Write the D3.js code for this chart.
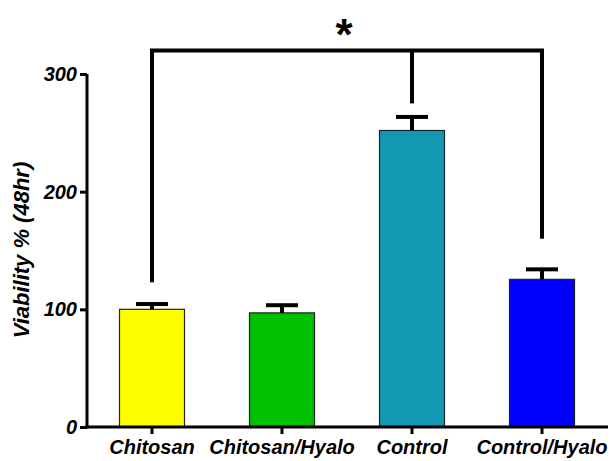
<!DOCTYPE html>
<html>
<head>
<meta charset="utf-8">
<script src="https://cdn.jsdelivr.net/npm/d3@7"></script>
<style>
  body { margin: 0; background: #fff; }
  text { font-family: "Liberation Sans", Arial, sans-serif; font-weight: bold; }
</style>
</head>
<body>
<div id="caja"></div>
<script>
// datos del grafico
var grupos  = ["Chitosan", "Chitosan/Hyalo", "Control", "Control/Hyalo"];
var medias  = [100, 97, 252, 125.5];
var errores = [4.5, 6.5, 11.5, 8.5];
var colores = ["#ffff00", "#00c000", "#1298b3", "#0000ff"];
var yTicks  = [0, 100, 200, 300];

// corchete de significancia: altura de la barra superior y final de cada pata
var corcheteTop  = 320;
var corchetePata = [ {g: "Chitosan", y: 123}, {g: "Control", y: 275}, {g: "Control/Hyalo", y: 160} ];

var w = 611, h = 461;

var svg = d3.select('#caja')
  .append('svg')
  .attr('width', w)
  .attr('height', h);

var x = d3.scaleBand()
  .domain(grupos)
  .range([87, 607])
  .paddingInner(0.5)
  .paddingOuter(0.25);

var y = d3.scaleLinear()
  .domain([0, 300])
  .range([427, 74]);

var cx = function(g) { return x(g) + x.bandwidth() / 2; };

// barras
svg.append("g")
  .selectAll("rect")
  .data(grupos)
  .enter()
  .append("rect")
    .attr("x", function(d) { return x(d); })
    .attr("y", function(d, i) { return y(medias[i]); })
    .attr("width", x.bandwidth())
    .attr("height", function(d, i) { return y(0) - y(medias[i]); })
    .style("fill", function(d, i) { return colores[i]; })
    .style("stroke", "#222")
    .style("stroke-width", 1.2);

// barras de error (solo hacia arriba)
var err = svg.append("g").style("stroke", "#000").style("stroke-width", 4);
grupos.forEach(function(g, i) {
  err.append("line")
    .attr("x1", cx(g)).attr("x2", cx(g))
    .attr("y1", y(medias[i])).attr("y2", y(medias[i] + errores[i]));
  err.append("line")
    .attr("x1", cx(g) - 16).attr("x2", cx(g) + 16)
    .attr("y1", y(medias[i] + errores[i])).attr("y2", y(medias[i] + errores[i]));
});

// ejes
var yAxis = svg.append("g")
  .attr("transform", "translate(87,0)")
  .call(d3.axisLeft(y).tickValues(yTicks).tickSize(7).tickSizeOuter(0).tickPadding(3));

var xAxis = svg.append("g")
  .attr("transform", "translate(0," + y(0) + ")")
  .call(d3.axisBottom(x).tickSize(7).tickSizeOuter(0).tickPadding(3));

[yAxis, xAxis].forEach(function(a) {
  a.select(".domain").style("stroke-width", 3);
  a.selectAll(".tick line").style("stroke-width", 3);
  a.selectAll("text")
    .style("font-size", "20px")
    .style("font-style", "italic")
    .style("font-weight", "bold")
    .style("fill", "#000");
});
xAxis.select(".domain").attr("d", "M85,0H608");
yAxis.select(".domain").attr("d", "M0," + (y(0) + 1.5) + "V" + y(300));
xAxis.selectAll("text").attr("dy", "0.85em");

// titulo eje y
svg.append("text")
  .attr("transform", "translate(29,250) rotate(-90)")
  .attr("text-anchor", "middle")
  .style("font-size", "22px")
  .style("font-style", "italic")
  .text("Viability % (48hr)");

// corchete
var corchete = svg.append("g").style("stroke", "#000").style("stroke-width", 4).style("fill", "none");
corchete.append("line")
  .attr("x1", cx("Chitosan") - 2).attr("x2", cx("Control/Hyalo") + 2)
  .attr("y1", y(corcheteTop)).attr("y2", y(corcheteTop));
corchete.selectAll("line.pata")
  .data(corchetePata)
  .enter()
  .append("line")
    .attr("class", "pata")
    .attr("x1", function(d) { return cx(d.g); })
    .attr("x2", function(d) { return cx(d.g); })
    .attr("y1", y(corcheteTop))
    .attr("y2", function(d) { return y(d.y); });

svg.append("text")
  .attr("x", 344)
  .attr("y", 50)
  .attr("text-anchor", "middle")
  .style("font-size", "44px")
  .text("*");
</script>
</body>
</html>
